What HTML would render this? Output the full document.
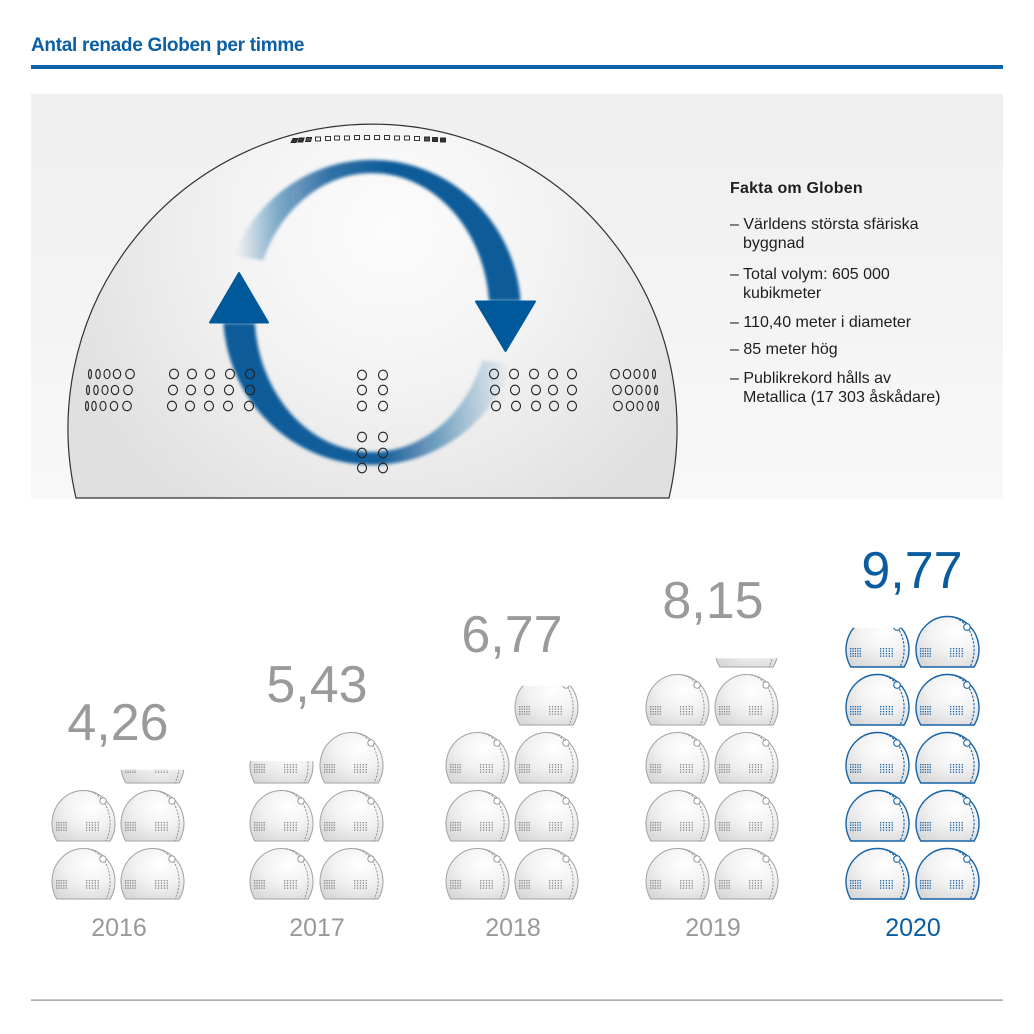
<!DOCTYPE html>
<html><head><meta charset="utf-8"><style>
html,body{margin:0;padding:0;background:#fff;}
svg{display:block;}
</style></head><body>
<svg width="1034" height="1034" viewBox="0 0 1034 1034" xmlns="http://www.w3.org/2000/svg" xmlns:xlink="http://www.w3.org/1999/xlink">
<defs>
  <linearGradient id="panelG" x1="0" y1="0" x2="0" y2="1">
    <stop offset="0" stop-color="#efefef"/><stop offset="1" stop-color="#f8f8f8"/>
  </linearGradient>
  <radialGradient id="domeG" gradientUnits="userSpaceOnUse" cx="390" cy="230" r="345">
    <stop offset="0" stop-color="#fcfcfc"/><stop offset="0.45" stop-color="#f3f3f3"/><stop offset="1" stop-color="#e0e0e0"/>
  </radialGradient>
  <linearGradient id="topArc" gradientUnits="userSpaceOnUse" x1="236" y1="0" x2="390" y2="0">
    <stop offset="0" stop-color="#0b5b99" stop-opacity="0"/>
    <stop offset="0.28" stop-color="#0b5b99" stop-opacity="0.5"/>
    <stop offset="0.6" stop-color="#0b5b99" stop-opacity="0.85"/>
    <stop offset="1" stop-color="#0b5b99" stop-opacity="1"/>
  </linearGradient>
  <linearGradient id="botArc" gradientUnits="userSpaceOnUse" x1="225" y1="0" x2="510" y2="0">
    <stop offset="0" stop-color="#0b5b99" stop-opacity="1"/>
    <stop offset="0.55" stop-color="#0b5b99" stop-opacity="0.97"/>
    <stop offset="0.8" stop-color="#0b5b99" stop-opacity="0.4"/>
    <stop offset="1" stop-color="#0b5b99" stop-opacity="0"/>
  </linearGradient>
  <filter id="soft" x="-20%" y="-20%" width="140%" height="140%">
    <feGaussianBlur stdDeviation="1.6"/>
  </filter>
  <radialGradient id="iconFill" cx="0.62" cy="0.32" r="0.8">
    <stop offset="0" stop-color="#ffffff"/><stop offset="0.5" stop-color="#f2f2f2"/><stop offset="1" stop-color="#d8d8d8"/>
  </radialGradient>

  <g id="dotsG">
    <rect x="4" y="32" width="1.3" height="1.3"/><rect x="6.4" y="32" width="1.3" height="1.3"/><rect x="8.8" y="32" width="1.3" height="1.3"/><rect x="11.2" y="32" width="1.3" height="1.3"/><rect x="13.6" y="32" width="1.3" height="1.3"/>
    <rect x="4" y="34.5" width="1.3" height="1.3"/><rect x="6.4" y="34.5" width="1.3" height="1.3"/><rect x="8.8" y="34.5" width="1.3" height="1.3"/><rect x="11.2" y="34.5" width="1.3" height="1.3"/><rect x="13.6" y="34.5" width="1.3" height="1.3"/>
    <rect x="4" y="37" width="1.3" height="1.3"/><rect x="6.4" y="37" width="1.3" height="1.3"/><rect x="8.8" y="37" width="1.3" height="1.3"/><rect x="11.2" y="37" width="1.3" height="1.3"/><rect x="13.6" y="37" width="1.3" height="1.3"/>
    <rect x="4" y="39.5" width="1.3" height="1.3"/><rect x="6.4" y="39.5" width="1.3" height="1.3"/><rect x="8.8" y="39.5" width="1.3" height="1.3"/><rect x="11.2" y="39.5" width="1.3" height="1.3"/><rect x="13.6" y="39.5" width="1.3" height="1.3"/>
    <rect x="34" y="32" width="1.3" height="1.3"/><rect x="36.9" y="32" width="1.3" height="1.3"/><rect x="39.8" y="32" width="1.3" height="1.3"/><rect x="42.7" y="32" width="1.3" height="1.3"/><rect x="45.6" y="32" width="1.3" height="1.3"/>
    <rect x="34" y="34.5" width="1.3" height="1.3"/><rect x="36.9" y="34.5" width="1.3" height="1.3"/><rect x="39.8" y="34.5" width="1.3" height="1.3"/><rect x="42.7" y="34.5" width="1.3" height="1.3"/><rect x="45.6" y="34.5" width="1.3" height="1.3"/>
    <rect x="34" y="37" width="1.3" height="1.3"/><rect x="36.9" y="37" width="1.3" height="1.3"/><rect x="39.8" y="37" width="1.3" height="1.3"/><rect x="42.7" y="37" width="1.3" height="1.3"/><rect x="45.6" y="37" width="1.3" height="1.3"/>
    <rect x="34" y="39.5" width="1.3" height="1.3"/><rect x="36.9" y="39.5" width="1.3" height="1.3"/><rect x="39.8" y="39.5" width="1.3" height="1.3"/><rect x="42.7" y="39.5" width="1.3" height="1.3"/><rect x="45.6" y="39.5" width="1.3" height="1.3"/>
  </g>

  <g id="iconG">
    <path d="M4.8,51 A31.5,33 0 1 1 58.2,51 Z" fill="url(#iconFill)" stroke="#a2a2a2" stroke-width="1"/>
    <path d="M36,0.8 A26.5,33 0 0 1 54,51" fill="none" stroke="#8e8e8e" stroke-width="0.9" stroke-dasharray="2.2 1.3"/>
    <circle cx="51" cy="11" r="3.2" fill="#fff" stroke="#909090" stroke-width="0.9"/>
    <use xlink:href="#dotsG" fill="#8a8a8a"/>
  </g>
  <g id="iconB">
    <path d="M4.8,51 A31.5,33 0 1 1 58.2,51 Z" fill="url(#iconFill)" stroke="#1763a6" stroke-width="1.4"/>
    <path d="M36,0.8 A26.5,33 0 0 1 54,51" fill="none" stroke="#1763a6" stroke-width="1.1" stroke-dasharray="2.4 1.4"/>
    <circle cx="51" cy="11" r="3.3" fill="#fff" stroke="#1763a6" stroke-width="1.1"/>
    <use xlink:href="#dotsG" fill="#1763a6"/>
  </g>
</defs>

<!-- Title -->
<text x="31" y="51" font-family="Liberation Sans, sans-serif" font-size="19" font-weight="bold" fill="#0b5fa5" letter-spacing="-0.3">Antal renade Globen per timme</text>
<rect x="31" y="65" width="972" height="4" fill="#0b62a8"/>

<!-- Panel -->
<rect x="31" y="94" width="972" height="405" fill="url(#panelG)"/>

<!-- Dome -->
<path d="M76,498 A304.5,304.5 0 1 1 669,498 Z" fill="url(#domeG)" stroke="#333" stroke-width="1.2"/>

<!-- top boxes -->
<g stroke="#222" stroke-width="0.9" fill="none">
  <rect x="292.5" y="138.5" width="5" height="4" fill="#333" transform="skewX(-25) translate(65,0)"/>
  <rect x="299.5" y="138" width="5" height="4" fill="#333" transform="skewX(-20) translate(50,0)"/>
  <rect x="306.5" y="137.5" width="5" height="4" fill="#555" transform="skewX(-15) translate(37,0)"/>
  <rect x="315.5" y="137" width="5" height="4"/>
  <rect x="325.5" y="136.5" width="5" height="4"/>
  <rect x="334.5" y="136" width="5" height="4"/>
  <rect x="344.5" y="136" width="5" height="4"/>
  <rect x="354.5" y="135.5" width="5" height="4"/>
  <rect x="364.5" y="135.5" width="5" height="4"/>
  <rect x="374.5" y="135.5" width="5" height="4"/>
  <rect x="384.5" y="135.5" width="5" height="4"/>
  <rect x="394.5" y="136" width="5" height="4"/>
  <rect x="404.5" y="136" width="5" height="4"/>
  <rect x="414.5" y="136.5" width="5" height="4"/>
  <rect x="424.5" y="137" width="5" height="4" fill="#555"/>
  <rect x="432.5" y="137.5" width="5" height="4" fill="#333"/>
  <rect x="440.5" y="138" width="5" height="4" fill="#333"/>
</g>

<!-- Arcs (ring between ellipses, thicker on sides) -->
<g filter="url(#soft)">
  <path d="M233.8,255.4 A149,152.5 0 0 1 520.6,301 L489.1,301 A117.5,139.5 0 0 0 263.1,260.2 Z" fill="url(#topArc)"/>
  <path d="M512,364.7 A149,152.5 0 0 1 223.4,323 L254.8,323 A117.5,139.5 0 0 0 482.4,360.2 Z" fill="url(#botArc)"/>
</g>
<polygon points="476,301.5 535,301.5 505.5,351" fill="#00599a" stroke="#00599a" stroke-width="2" stroke-linejoin="round"/>
<polygon points="210,322.5 268,322.5 239,273" fill="#00599a" stroke="#00599a" stroke-width="2" stroke-linejoin="round"/>

<!-- windows -->
<g fill="none" stroke="#222" stroke-width="1.1">
  <ellipse cx="90" cy="374" rx="1.4" ry="4.6"/><ellipse cx="98" cy="374" rx="2.2" ry="4.6"/><ellipse cx="107" cy="374" rx="3" ry="4.6"/><ellipse cx="117" cy="374" rx="3.7" ry="4.6"/><ellipse cx="130" cy="374" rx="4.3" ry="4.7"/>
  <ellipse cx="88" cy="390" rx="1.4" ry="4.6"/><ellipse cx="96" cy="390" rx="2.2" ry="4.6"/><ellipse cx="105" cy="390" rx="3" ry="4.6"/><ellipse cx="115" cy="390" rx="3.7" ry="4.6"/><ellipse cx="128" cy="390" rx="4.3" ry="4.7"/>
  <ellipse cx="87" cy="406" rx="1.4" ry="4.6"/><ellipse cx="94" cy="406" rx="2.2" ry="4.6"/><ellipse cx="103" cy="406" rx="3" ry="4.6"/><ellipse cx="114" cy="406" rx="3.7" ry="4.6"/><ellipse cx="127" cy="406" rx="4.3" ry="4.7"/>

  <ellipse cx="174" cy="374" rx="4.5" ry="4.8"/><ellipse cx="192" cy="374" rx="4.5" ry="4.8"/><ellipse cx="210" cy="374" rx="4.5" ry="4.8"/><ellipse cx="230" cy="374" rx="4.5" ry="4.8"/><ellipse cx="250" cy="374" rx="4.5" ry="4.8"/>
  <ellipse cx="173" cy="390" rx="4.5" ry="4.8"/><ellipse cx="191" cy="390" rx="4.5" ry="4.8"/><ellipse cx="209" cy="390" rx="4.5" ry="4.8"/><ellipse cx="229" cy="390" rx="4.5" ry="4.8"/><ellipse cx="250" cy="390" rx="4.5" ry="4.8"/>
  <ellipse cx="172" cy="406" rx="4.5" ry="4.8"/><ellipse cx="190" cy="406" rx="4.5" ry="4.8"/><ellipse cx="209" cy="406" rx="4.5" ry="4.8"/><ellipse cx="228" cy="406" rx="4.5" ry="4.8"/><ellipse cx="249" cy="406" rx="4.5" ry="4.8"/>

  <ellipse cx="362" cy="375" rx="4.5" ry="4.8"/><ellipse cx="383" cy="375" rx="4.5" ry="4.8"/>
  <ellipse cx="362" cy="390" rx="4.5" ry="4.8"/><ellipse cx="383" cy="390" rx="4.5" ry="4.8"/>
  <ellipse cx="362" cy="406" rx="4.5" ry="4.8"/><ellipse cx="383" cy="406" rx="4.5" ry="4.8"/>
  <ellipse cx="362" cy="437" rx="4.5" ry="4.8"/><ellipse cx="383" cy="437" rx="4.5" ry="4.8"/>
  <ellipse cx="362" cy="453" rx="4.5" ry="4.8"/><ellipse cx="383" cy="453" rx="4.5" ry="4.8"/>
  <ellipse cx="362" cy="468" rx="4.5" ry="4.8"/><ellipse cx="383" cy="468" rx="4.5" ry="4.8"/>

  <ellipse cx="494" cy="374" rx="4.5" ry="4.8"/><ellipse cx="514" cy="374" rx="4.5" ry="4.8"/><ellipse cx="534" cy="374" rx="4.5" ry="4.8"/><ellipse cx="553" cy="374" rx="4.5" ry="4.8"/><ellipse cx="572" cy="374" rx="4.5" ry="4.8"/>
  <ellipse cx="495" cy="390" rx="4.5" ry="4.8"/><ellipse cx="515" cy="390" rx="4.5" ry="4.8"/><ellipse cx="536" cy="390" rx="4.5" ry="4.8"/><ellipse cx="553" cy="390" rx="4.5" ry="4.8"/><ellipse cx="572" cy="390" rx="4.5" ry="4.8"/>
  <ellipse cx="496" cy="406" rx="4.5" ry="4.8"/><ellipse cx="516" cy="406" rx="4.5" ry="4.8"/><ellipse cx="536" cy="406" rx="4.5" ry="4.8"/><ellipse cx="554" cy="406" rx="4.5" ry="4.8"/><ellipse cx="572" cy="406" rx="4.5" ry="4.8"/>

  <ellipse cx="615" cy="374" rx="4.3" ry="4.7"/><ellipse cx="627" cy="374" rx="3.7" ry="4.6"/><ellipse cx="637" cy="374" rx="3" ry="4.6"/><ellipse cx="646" cy="374" rx="2.2" ry="4.6"/><ellipse cx="654" cy="374" rx="1.4" ry="4.6"/>
  <ellipse cx="617" cy="390" rx="4.3" ry="4.7"/><ellipse cx="629" cy="390" rx="3.7" ry="4.6"/><ellipse cx="639" cy="390" rx="3" ry="4.6"/><ellipse cx="648" cy="390" rx="2.2" ry="4.6"/><ellipse cx="656" cy="390" rx="1.4" ry="4.6"/>
  <ellipse cx="618" cy="406" rx="4.3" ry="4.7"/><ellipse cx="630" cy="406" rx="3.7" ry="4.6"/><ellipse cx="640" cy="406" rx="3" ry="4.6"/><ellipse cx="650" cy="406" rx="2.2" ry="4.6"/><ellipse cx="657" cy="406" rx="1.4" ry="4.6"/>
</g>

<!-- Fakta -->
<g font-family="Liberation Sans, sans-serif" font-size="16" fill="#1e1e1e">
  <text x="730" y="193" font-weight="bold" letter-spacing="0.2">Fakta om Globen</text>
  <text x="730" y="229">– Världens största sfäriska</text>
  <text x="743" y="248">byggnad</text>
  <text x="730" y="279">– Total volym: 605 000</text>
  <text x="743" y="298">kubikmeter</text>
  <text x="730" y="327">– 110,40 meter i diameter</text>
  <text x="730" y="354">– 85 meter hög</text>
  <text x="730" y="383">– Publikrekord hålls av</text>
  <text x="743" y="402">Metallica (17 303 åskådare)</text>
</g>

<!-- Icons 2016 -->
<use xlink:href="#iconG" transform="translate(52,848)"/>
<use xlink:href="#iconG" transform="translate(121,848)"/>
<use xlink:href="#iconG" transform="translate(52,790)"/>
<use xlink:href="#iconG" transform="translate(121,790)"/>
<svg x="120" y="769.7" width="65" height="14.8" viewBox="-1 37.7 65 14.8"><use xlink:href="#iconG"/></svg>

<!-- 2017 -->
<use xlink:href="#iconG" transform="translate(250,848)"/>
<use xlink:href="#iconG" transform="translate(320,848)"/>
<use xlink:href="#iconG" transform="translate(250,790)"/>
<use xlink:href="#iconG" transform="translate(320,790)"/>
<use xlink:href="#iconG" transform="translate(320,732)"/>
<svg x="249" y="761.1" width="65" height="23.4" viewBox="-1 29.1 65 23.4"><use xlink:href="#iconG"/></svg>

<!-- 2018 -->
<use xlink:href="#iconG" transform="translate(446,848)"/>
<use xlink:href="#iconG" transform="translate(515,848)"/>
<use xlink:href="#iconG" transform="translate(446,790)"/>
<use xlink:href="#iconG" transform="translate(515,790)"/>
<use xlink:href="#iconG" transform="translate(446,732)"/>
<use xlink:href="#iconG" transform="translate(515,732)"/>
<svg x="514" y="685.7" width="65" height="40.8" viewBox="-1 11.7 65 40.8"><use xlink:href="#iconG"/></svg>

<!-- 2019 -->
<use xlink:href="#iconG" transform="translate(646,848)"/>
<use xlink:href="#iconG" transform="translate(715,848)"/>
<use xlink:href="#iconG" transform="translate(646,790)"/>
<use xlink:href="#iconG" transform="translate(715,790)"/>
<use xlink:href="#iconG" transform="translate(646,732)"/>
<use xlink:href="#iconG" transform="translate(715,732)"/>
<use xlink:href="#iconG" transform="translate(646,674)"/>
<use xlink:href="#iconG" transform="translate(715,674)"/>
<svg x="714" y="658.3" width="65" height="10.2" viewBox="-1 42.3 65 10.2"><use xlink:href="#iconG"/></svg>

<!-- 2020 -->
<use xlink:href="#iconB" transform="translate(846,848)"/>
<use xlink:href="#iconB" transform="translate(916,848)"/>
<use xlink:href="#iconB" transform="translate(846,790)"/>
<use xlink:href="#iconB" transform="translate(916,790)"/>
<use xlink:href="#iconB" transform="translate(846,732)"/>
<use xlink:href="#iconB" transform="translate(916,732)"/>
<use xlink:href="#iconB" transform="translate(846,674)"/>
<use xlink:href="#iconB" transform="translate(916,674)"/>
<use xlink:href="#iconB" transform="translate(916,616)"/>
<svg x="845" y="627.7" width="65" height="40.8" viewBox="-1 11.7 65 40.8"><use xlink:href="#iconB"/></svg>

<!-- Values -->
<g font-family="Liberation Sans, sans-serif" font-size="52" fill="#9a9a9a" text-anchor="middle">
  <text x="118" y="740">4,26</text>
  <text x="317" y="702">5,43</text>
  <text x="512" y="652">6,77</text>
  <text x="713" y="618">8,15</text>
  <text x="912" y="588" fill="#0a5c9f">9,77</text>
</g>

<!-- Years -->
<g font-family="Liberation Sans, sans-serif" font-size="25" fill="#999" text-anchor="middle">
  <text x="119" y="936">2016</text>
  <text x="317" y="936">2017</text>
  <text x="513" y="936">2018</text>
  <text x="713" y="936">2019</text>
  <text x="913" y="936" fill="#0a5c9f">2020</text>
</g>

<rect x="31" y="999.5" width="972" height="1.2" fill="#8f8f8f"/>
</svg>
</body></html>
